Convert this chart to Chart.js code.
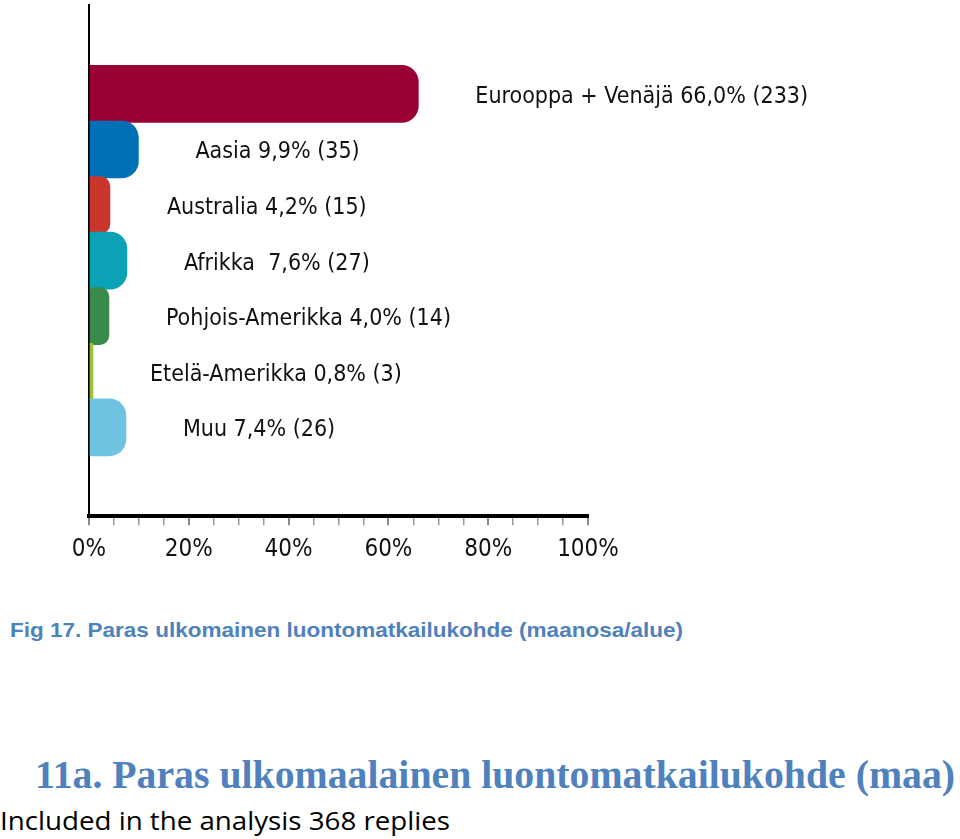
<!DOCTYPE html>
<html>
<head>
<meta charset="utf-8">
<script src="https://cdn.jsdelivr.net/npm/chart.js@4"></script>
<style>
  html, body { margin: 0; padding: 0; background: #ffffff; }
  body { width: 960px; height: 839px; position: relative; overflow: hidden; }
  #wrap { position: absolute; left: 0; top: 0; width: 960px; height: 590px; }
  .cap { position: absolute; white-space: nowrap; transform-origin: 0 0; }
  #fig { left: 10px; top: 618px; font-family: "Liberation Sans Narrow", "Liberation Sans", sans-serif; font-weight: bold; font-size: 21px; color: #4f81bd; }
  #head { left: 35px; top: 752px; font-family: "Liberation Serif", "DejaVu Serif", serif; font-weight: bold; font-size: 39px; color: #4f81bd; }
  #inc { left: 0px; top: 802px; font-family: "Open Sans", "Liberation Sans", sans-serif; font-size: 26px; color: #000000; }
</style>
</head>
<body>
<div id="wrap"><canvas id="c"></canvas></div>
<div class="cap" id="fig" data-w="673">Fig 17. Paras ulkomainen luontomatkailukohde (maanosa/alue)</div>
<div class="cap" id="head" data-w="920">11a. Paras ulkomaalainen luontomatkailukohde (maa)</div>
<div class="cap" id="inc" data-w="450">Included in the analysis 368 replies</div>
<script>
const categories = ["Eurooppa + Venäjä", "Aasia", "Australia", "Afrikka", "Pohjois-Amerikka", "Etelä-Amerikka", "Muu"];
const percents = [66.0, 9.9, 4.2, 7.6, 4.0, 0.8, 7.4];
const counts = [233, 35, 15, 27, 14, 3, 26];
const percentLabels = ["66,0%", "9,9%", "4,2%", "7,6%", "4,0%", "0,8%", "7,4%"];
const barColors = ["#990033", "#0070b6", "#c9372c", "#0ba2b6", "#3a8a4c", "#9cc43a", "#6ec4e0"];
const xTicks = [0, 20, 40, 60, 80, 100];

// fit caption widths
document.querySelectorAll('.cap').forEach(el => {
  const target = parseFloat(el.dataset.w);
  const w = el.getBoundingClientRect().width;
  el.style.transform = 'scaleX(' + (target / w) + ')';
});

const labelFont = '23px "DejaVu Sans Condensed", "DejaVu Sans", sans-serif';

const barLabels = {
  id: 'barLabels',
  afterDatasetsDraw(chart) {
    const ctx = chart.ctx;
    const meta = chart.getDatasetMeta(0);
    ctx.save();
    ctx.font = labelFont;
    ctx.fillStyle = '#111111';
    ctx.textBaseline = 'middle';
    ctx.textAlign = 'left';
    meta.data.forEach((bar, i) => {
      const sep = (i === 3) ? '  ' : ' ';
      const txt = categories[i] + sep + percentLabels[i] + ' (' + counts[i] + ')';
      ctx.fillText(txt, bar.x + 57, bar.y + 3);
    });
    ctx.restore();
  }
};

new Chart(document.getElementById('c'), {
  type: 'bar',
  data: {
    datasets: [{
      data: percents.map((v, i) => ({ x: v, y: i })),
      backgroundColor: barColors,
      borderWidth: 0,
      borderRadius: 17,
      borderSkipped: 'start',
      barThickness: (c) => c.dataIndex === 0 ? 60 : 57
    }]
  },
  options: {
    indexAxis: 'y',
    responsive: true,
    maintainAspectRatio: false,
    animation: false,
    layout: { padding: { left: 89, right: 372, top: 5, bottom: 16 } },
    plugins: { legend: { display: false }, tooltip: { enabled: false } },
    scales: {
      x: {
        type: 'linear',
        min: 0,
        max: 100,
        ticks: {
          stepSize: 5,
          autoSkip: false,
          maxRotation: 0,
          padding: 10,
          color: '#111111',
          font: { family: '"DejaVu Sans Condensed", "DejaVu Sans", sans-serif', size: 24 },
          callback: (v) => xTicks.includes(v) ? v + '%' : ''
        },
        grid: {
          drawOnChartArea: false,
          drawTicks: true,
          tickLength: 9,
          lineWidth: (c) => (c.tick && xTicks.includes(c.tick.value)) ? 2 : 1.5,
          color: (c) => (c.tick && xTicks.includes(c.tick.value)) ? '#8a8a8a' : '#9a9a9a'
        },
        border: { display: true, color: '#000000', width: 4 }
      },
      y: {
        type: 'linear',
        min: -1.6,
        max: 7.6,
        reverse: true,
        offset: false,
        ticks: { display: false },
        grid: { display: false, drawTicks: false },
        border: { display: true, color: '#000000', width: 2 }
      }
    }
  },
  plugins: [barLabels]
});
</script>
</body>
</html>
